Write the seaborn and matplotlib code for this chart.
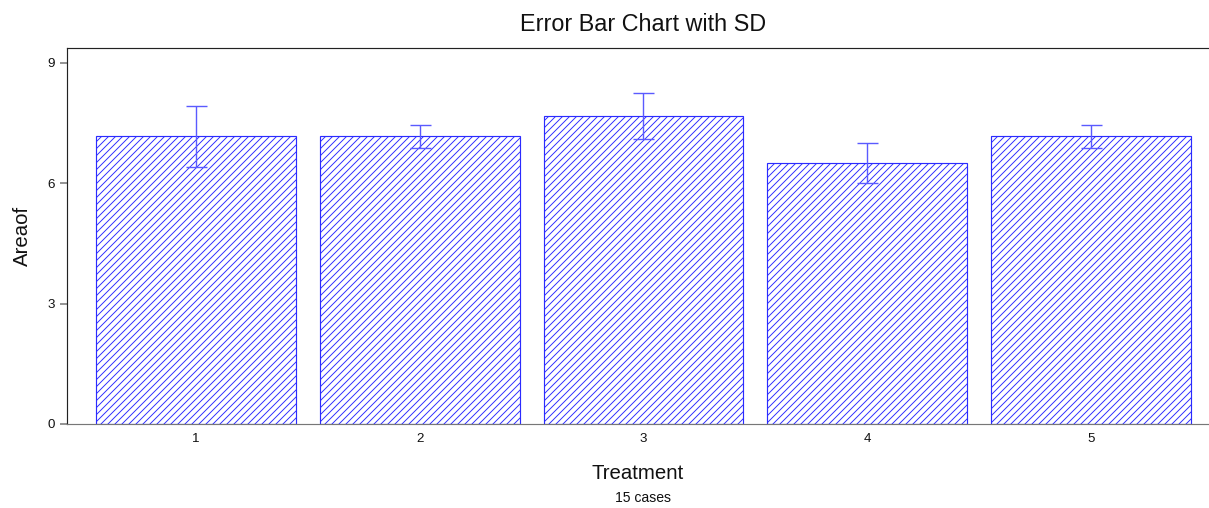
import numpy as np
import matplotlib
matplotlib.use("Agg")
import matplotlib.pyplot as plt
import seaborn as sns
import pandas as pd

# --- Data ---
treatments = ["1", "2", "3", "4", "5"]
means = [7.17, 7.17, 7.67, 6.50, 7.17]
sds = [0.76, 0.29, 0.58, 0.50, 0.29]
y_ticks = [0, 3, 6, 9]

df = pd.DataFrame({"Treatment": treatments, "Areaof": means})

# --- Style ---
sns.set_style("white")
plt.rcParams["font.family"] = ["Liberation Sans", "DejaVu Sans"]
plt.rcParams["hatch.linewidth"] = 0.8
plt.rcParams["hatch.color"] = "#6a6aff"

dpi = 84
fig = plt.figure(figsize=(1209 / dpi, 508 / dpi), dpi=dpi)
ax = fig.add_axes([67 / 1209, 1 - 424 / 508, 1 - 67 / 1209, (424 - 48) / 508])

sns.barplot(data=df, x="Treatment", y="Areaof", ax=ax, color="white",
            width=0.893, errorbar=None, edgecolor="#2b2bff", linewidth=1.0)
for p in ax.patches:
    p.set_hatch("////")
    try:
        p.set_hatchcolor("#6a6aff")
    except AttributeError:
        pass

ax.errorbar(x=np.arange(len(treatments)), y=means, yerr=sds, fmt="none",
            ecolor="#5a5aff", elinewidth=1.2, capsize=9, capthick=1.2)

# --- Axes ---
ax.set_xlim(-0.576, 4.527)
ax.set_ylim(0, 9.37)
ax.set_yticks(y_ticks)
ax.tick_params(axis="y", left=True, length=6, width=1.5, color="#888888",
               labelsize=11.5, labelcolor="#111111", pad=4)
ax.tick_params(axis="x", bottom=False, length=0, labelsize=11.5,
               labelcolor="#111111", pad=8)

for side in ["left", "top"]:
    ax.spines[side].set_color("#222222")
    ax.spines[side].set_linewidth(1.0)
ax.spines["bottom"].set_color("#777777")
ax.spines["bottom"].set_linewidth(1.0)
ax.spines["right"].set_visible(False)

ax.set_xlabel("Treatment", fontsize=17.5, labelpad=16, color="#111111")
ax.set_ylabel("Areaof", fontsize=17.5, labelpad=14, color="#111111")
fig.suptitle("Error Bar Chart with SD", fontsize=20, y=0.975, x=0.532,
             color="#111111")
fig.text(0.532, 0.005, "15 cases", ha="center", va="bottom", fontsize=12,
         color="#111111")

fig.savefig("out.png", dpi=dpi)
